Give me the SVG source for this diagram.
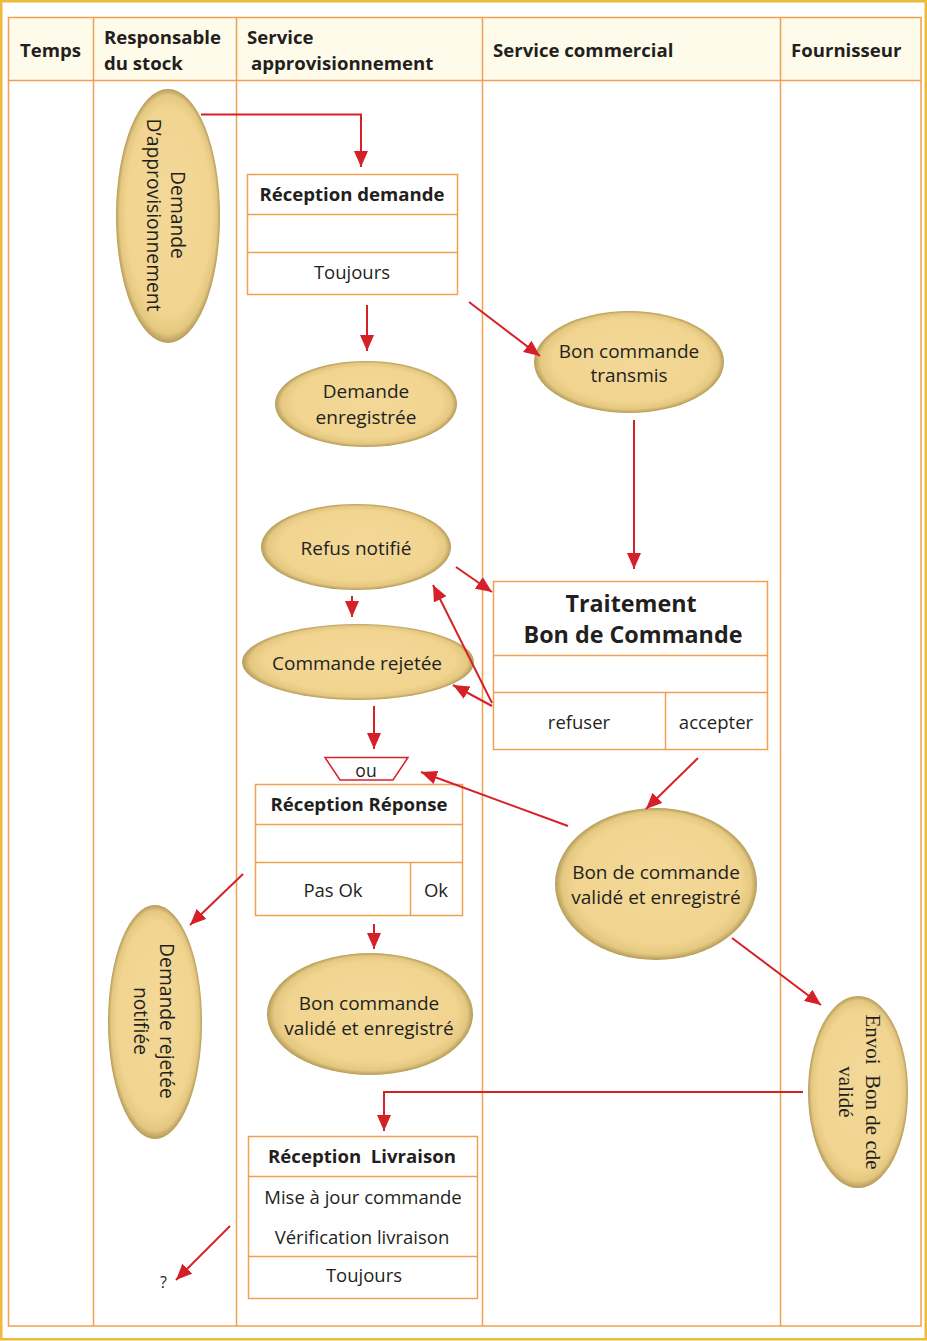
<svg xmlns="http://www.w3.org/2000/svg" width="927" height="1341" viewBox="0 0 927 1341">
<defs>
<radialGradient id="eg" cx="0.5" cy="0.5" r="0.5" fx="0.55" fy="0.4">
<stop offset="0" stop-color="#F3D898"/>
<stop offset="0.82" stop-color="#F1D48F"/>
<stop offset="0.94" stop-color="#E4C780"/>
<stop offset="1" stop-color="#B49C58"/>
</radialGradient>
<marker id="ah" viewBox="0 0 16 14" refX="16" refY="7" markerWidth="16" markerHeight="14" markerUnits="userSpaceOnUse" orient="auto">
<path d="M0,0 L16,7 L0,14 z" fill="#D62027"/>
</marker>
</defs>
<style>
.t{font-family:"Open Sans","Noto Sans","Liberation Sans",sans-serif;fill:#231F20}
.h{font-size:18.6px;font-weight:bold}
.b{font-size:18.6px;font-weight:bold;text-anchor:middle}
.r{font-size:18.5px;text-anchor:middle}
.e{font-size:19px;text-anchor:middle}
.v{font-size:19.3px;text-anchor:middle}
.s{font-family:"Liberation Serif","DejaVu Serif",serif;font-size:21px;fill:#231F20;text-anchor:middle}
.box{fill:#FFFFFF;stroke:#F0A050;stroke-width:1.5}
.ln{stroke:#F0A050;stroke-width:1.5;fill:none}
.el{fill:url(#eg)}
.c{fill:none;stroke:#D62027;stroke-width:2;marker-end:url(#ah)}
</style>
<rect x="0" y="0" width="927" height="1341" fill="#FFFFFF"/>
<rect x="1.25" y="1.25" width="924.5" height="1338" fill="none" stroke="#ECBA3C" stroke-width="2.5"/>
<g id="table">
<rect x="8.5" y="17.5" width="912.5" height="63" fill="#FFFBEB" stroke="none"/>
<rect x="8.5" y="17.5" width="912.5" height="1308.5" class="ln"/>
<line x1="8.5" y1="80.5" x2="921" y2="80.5" class="ln"/>
<line x1="93.5" y1="17.5" x2="93.5" y2="1326" class="ln"/>
<line x1="236.5" y1="17.5" x2="236.5" y2="1326" class="ln"/>
<line x1="482.5" y1="17.5" x2="482.5" y2="1326" class="ln"/>
<line x1="780.5" y1="17.5" x2="780.5" y2="1326" class="ln"/>
<text class="t h" x="20" y="57">Temps</text>
<text class="t h" x="104" y="44">Responsable</text>
<text class="t h" x="104" y="70">du stock</text>
<text class="t h" x="247" y="44">Service</text>
<text class="t h" x="251" y="70">approvisionnement</text>
<text class="t h" x="493" y="57">Service commercial</text>
<text class="t h" x="791" y="57">Fournisseur</text>
</g>
<g id="n-demande-appro">
<ellipse class="el" cx="168" cy="216" rx="52" ry="127"/>
<g transform="translate(168,215) rotate(90)">
<text class="t v" x="0" y="-3">Demande</text>
<text class="t v" x="0" y="21">D’approvisionnement</text>
</g>
</g>
<g id="n-reception-demande">
<rect class="box" x="247.5" y="174.5" width="210" height="120"/>
<line class="ln" x1="247.5" y1="214.5" x2="457.5" y2="214.5"/>
<line class="ln" x1="247.5" y1="252.5" x2="457.5" y2="252.5"/>
<text class="t b" x="352" y="201">Réception demande</text>
<text class="t r" x="352" y="279">Toujours</text>
</g>
<g id="n-demande-enregistree">
<ellipse class="el" cx="366" cy="404" rx="91" ry="43"/>
<text class="t e" x="366" y="398">Demande</text>
<text class="t e" x="366" y="424">enregistrée</text>
</g>
<g id="n-bon-transmis">
<ellipse class="el" cx="629" cy="362" rx="95" ry="51"/>
<text class="t e" x="629" y="358">Bon commande</text>
<text class="t e" x="629" y="382">transmis</text>
</g>
<g id="n-refus-notifie">
<ellipse class="el" cx="356" cy="547" rx="95" ry="43"/>
<text class="t e" x="356" y="555">Refus notifié</text>
</g>
<g id="n-commande-rejetee">
<ellipse class="el" cx="358" cy="662" rx="116" ry="38"/>
<text class="t e" x="357" y="670">Commande rejetée</text>
</g>
<g id="n-traitement">
<rect class="box" x="493.5" y="581.5" width="274" height="168"/>
<line class="ln" x1="493.5" y1="655.5" x2="767.5" y2="655.5"/>
<line class="ln" x1="493.5" y1="692.5" x2="767.5" y2="692.5"/>
<line class="ln" x1="665.5" y1="692.5" x2="665.5" y2="749.5"/>
<text class="t b" style="font-size:23.3px" x="631" y="612">Traitement</text>
<text class="t b" style="font-size:23.3px" x="633" y="643">Bon de Commande</text>
<text class="t r" x="579" y="729">refuser</text>
<text class="t r" x="716" y="729">accepter</text>
</g>
<g id="n-ou">
<polygon points="325,757.5 408,757.5 393,780 340,780" fill="#FFFFFF" stroke="#D62027" stroke-width="1.5"/>
<text class="t r" style="font-size:17.5px" x="366" y="777">ou</text>
</g>
<g id="n-reception-reponse">
<rect class="box" x="255.5" y="784.5" width="207" height="131"/>
<line class="ln" x1="255.5" y1="824.5" x2="462.5" y2="824.5"/>
<line class="ln" x1="255.5" y1="862.5" x2="462.5" y2="862.5"/>
<line class="ln" x1="410.5" y1="862.5" x2="410.5" y2="915.5"/>
<text class="t b" x="359" y="811">Réception Réponse</text>
<text class="t r" x="333" y="897">Pas Ok</text>
<text class="t r" x="436" y="897">Ok</text>
</g>
<g id="n-bon-valide-commercial">
<ellipse class="el" cx="656" cy="884" rx="101" ry="76"/>
<text class="t e" x="656" y="879">Bon de commande</text>
<text class="t e" x="656" y="904">validé et enregistré</text>
</g>
<g id="n-demande-rejetee-notifiee">
<ellipse class="el" cx="155" cy="1022" rx="47" ry="117"/>
<g transform="translate(155,1021) rotate(90)">
<text class="t v" x="0" y="-5">Demande rejetée</text>
<text class="t v" x="0" y="21">notifiée</text>
</g>
</g>
<g id="n-bon-valide-appro">
<ellipse class="el" cx="370" cy="1014" rx="103" ry="61"/>
<text class="t e" x="369" y="1010">Bon commande</text>
<text class="t e" x="369" y="1035">validé et enregistré</text>
</g>
<g id="n-envoi-bon">
<ellipse class="el" cx="858" cy="1092" rx="50" ry="96"/>
<g transform="translate(858,1092) rotate(90)">
<text class="s" x="0" y="-8" xml:space="preserve">Envoi  Bon de cde</text>
<text class="s" x="0" y="19">validé</text>
</g>
</g>
<g id="n-reception-livraison">
<rect class="box" x="248.5" y="1136.5" width="229" height="162"/>
<line class="ln" x1="248.5" y1="1176.5" x2="477.5" y2="1176.5"/>
<line class="ln" x1="248.5" y1="1256.5" x2="477.5" y2="1256.5"/>
<text class="t b" x="362" y="1163" xml:space="preserve">Réception  Livraison</text>
<text class="t r" x="363" y="1204">Mise à jour commande</text>
<text class="t r" x="362" y="1244">Vérification livraison</text>
<text class="t r" x="364" y="1282">Toujours</text>
</g>
<g id="n-question">
<text class="t" style="font-size:16px" x="160" y="1288">?</text>
</g>
<g id="connectors">
<polyline class="c" points="201,114.5 361,114.5 361,167"/>
<line class="c" x1="367" y1="305" x2="367" y2="351"/>
<line class="c" x1="469" y1="302" x2="540" y2="356"/>
<line class="c" x1="634" y1="420" x2="634" y2="569"/>
<line class="c" x1="456" y1="567" x2="492" y2="592"/>
<line class="c" x1="352" y1="596" x2="352" y2="617"/>
<line class="c" x1="492" y1="703" x2="433" y2="585"/>
<line class="c" x1="492" y1="706" x2="453" y2="685"/>
<line class="c" x1="374" y1="706" x2="374" y2="749"/>
<line class="c" x1="568" y1="826" x2="421" y2="772"/>
<line class="c" x1="698" y1="758" x2="646" y2="809"/>
<line class="c" x1="243" y1="874" x2="190" y2="925"/>
<line class="c" x1="374" y1="924" x2="374" y2="949"/>
<line class="c" x1="732" y1="938" x2="821" y2="1005"/>
<polyline class="c" points="803,1092 384,1092 384,1131"/>
<line class="c" x1="230" y1="1226" x2="176" y2="1280"/>
</g>
</svg>
